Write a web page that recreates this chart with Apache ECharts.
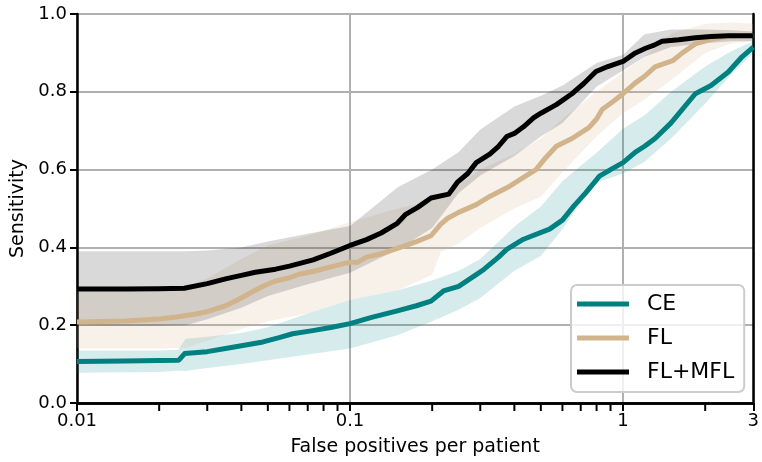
<!DOCTYPE html>
<html>
<head>
<meta charset="utf-8">
<script src="https://cdn.jsdelivr.net/npm/echarts@6/dist/echarts.min.js"></script>
<style>html,body{margin:0;padding:0;background:#fff}#c{width:762px;height:462px}</style>
</head>
<body>
<div id="c"></div>
<script>
// ---- data (false positives per patient, sensitivity) ----
const seriesNames = ['CE', 'FL', 'FL+MFL'];

const ceX = [0.01, 0.015, 0.02, 0.0236, 0.0248, 0.03, 0.035, 0.04, 0.048, 0.055, 0.0616, 0.073, 0.085, 0.1, 0.12, 0.149, 0.175, 0.198, 0.22, 0.25, 0.29, 0.31, 0.35, 0.375, 0.432, 0.538, 0.6, 0.66, 0.73, 0.82, 0.9, 1.0, 1.11, 1.2, 1.31, 1.5, 1.84, 2.1, 2.43, 2.73, 3];
const ceY = [0.107, 0.108, 0.109, 0.11, 0.127, 0.132, 0.14, 0.147, 0.157, 0.168, 0.178, 0.186, 0.194, 0.204, 0.22, 0.237, 0.25, 0.262, 0.288, 0.3, 0.33, 0.344, 0.375, 0.395, 0.421, 0.447, 0.47, 0.506, 0.54, 0.583, 0.6, 0.618, 0.645, 0.66, 0.68, 0.72, 0.795, 0.816, 0.851, 0.89, 0.915];

const flX = [0.01, 0.015, 0.02, 0.0231, 0.027, 0.03, 0.035, 0.04, 0.045, 0.048, 0.053, 0.06, 0.065, 0.075, 0.085, 0.1, 0.107, 0.115, 0.129, 0.15, 0.175, 0.198, 0.215, 0.228, 0.25, 0.29, 0.325, 0.38, 0.432, 0.48, 0.52, 0.57, 0.65, 0.75, 0.8, 0.84, 0.92, 1.0, 1.11, 1.2, 1.31, 1.52, 1.65, 1.84, 2.1, 2.43, 3];
const flY = [0.208, 0.211, 0.216, 0.221, 0.228, 0.235, 0.25, 0.27, 0.29, 0.3, 0.313, 0.322, 0.331, 0.34, 0.35, 0.362, 0.362, 0.375, 0.383, 0.398, 0.415, 0.43, 0.46, 0.475, 0.49, 0.51, 0.531, 0.555, 0.58, 0.6, 0.63, 0.66, 0.68, 0.708, 0.73, 0.755, 0.775, 0.795, 0.823, 0.84, 0.864, 0.88, 0.9, 0.923, 0.935, 0.943, 0.945];

const mflX = [0.01, 0.015, 0.02, 0.0247, 0.03, 0.035, 0.04, 0.045, 0.0534, 0.06, 0.0733, 0.085, 0.1, 0.115, 0.13, 0.149, 0.16, 0.177, 0.198, 0.23, 0.247, 0.27, 0.29, 0.325, 0.35, 0.375, 0.4, 0.432, 0.47, 0.5, 0.57, 0.65, 0.72, 0.796, 0.88, 1.0, 1.11, 1.21, 1.3, 1.39, 1.6, 1.84, 2.1, 2.43, 3];
const mflY = [0.293, 0.293, 0.294, 0.295, 0.307, 0.319, 0.328, 0.336, 0.344, 0.352, 0.368, 0.385, 0.405, 0.42, 0.437, 0.462, 0.485, 0.503, 0.527, 0.537, 0.567, 0.59, 0.618, 0.64, 0.66, 0.685, 0.693, 0.71, 0.733, 0.745, 0.767, 0.795, 0.822, 0.852, 0.865, 0.878, 0.9, 0.912, 0.92, 0.93, 0.934, 0.939, 0.942, 0.944, 0.944];

// confidence bands
const ceBandX  = [0.01, 0.02, 0.0235, 0.025, 0.03, 0.04, 0.05, 0.07, 0.1, 0.15, 0.2, 0.25, 0.3, 0.4, 0.5, 0.6, 0.7, 0.8, 1.0, 1.2, 1.5, 2.0, 2.5, 3];
const ceLow    = [0.078, 0.08, 0.083, 0.082, 0.09, 0.1, 0.11, 0.125, 0.14, 0.175, 0.21, 0.24, 0.27, 0.34, 0.378, 0.447, 0.515, 0.567, 0.59, 0.62, 0.68, 0.77, 0.846, 0.9];
const ceHigh   = [0.135, 0.135, 0.137, 0.165, 0.17, 0.18, 0.195, 0.23, 0.265, 0.29, 0.315, 0.34, 0.37, 0.454, 0.505, 0.57, 0.61, 0.643, 0.705, 0.74, 0.8, 0.865, 0.905, 0.93];

const flBandX  = [0.01, 0.02, 0.025, 0.03, 0.04, 0.05, 0.07, 0.1, 0.15, 0.2, 0.215, 0.25, 0.3, 0.4, 0.5, 0.6, 0.8, 1.0, 1.2, 1.5, 2.0, 2.5, 3];
const flLow    = [0.14, 0.14, 0.142, 0.16, 0.19, 0.21, 0.23, 0.265, 0.29, 0.33, 0.388, 0.41, 0.45, 0.5, 0.53, 0.593, 0.685, 0.745, 0.78, 0.83, 0.9, 0.925, 0.93];
const flHigh   = [0.29, 0.295, 0.3, 0.32, 0.37, 0.405, 0.43, 0.465, 0.5, 0.52, 0.53, 0.56, 0.6, 0.64, 0.68, 0.73, 0.8, 0.85, 0.89, 0.95, 0.975, 0.978, 0.975];

const mflBandX = [0.01, 0.02, 0.025, 0.03, 0.04, 0.05, 0.07, 0.1, 0.15, 0.2, 0.25, 0.3, 0.4, 0.5, 0.6, 0.8, 1.0, 1.2, 1.5, 2.0, 2.5, 3];
const mflLow   = [0.198, 0.198, 0.2, 0.215, 0.245, 0.275, 0.305, 0.335, 0.395, 0.45, 0.54, 0.585, 0.635, 0.685, 0.72, 0.813, 0.855, 0.89, 0.915, 0.925, 0.93, 0.93];
const mflHigh  = [0.39, 0.39, 0.39, 0.392, 0.4, 0.415, 0.435, 0.455, 0.555, 0.6, 0.645, 0.703, 0.762, 0.79, 0.816, 0.874, 0.895, 0.948, 0.96, 0.96, 0.958, 0.955];

// axis ticks
const xMajorTicks = [0.01, 0.1, 1, 3];
const xMinorTicks = [0.02, 0.03, 0.04, 0.05, 0.06, 0.07, 0.08, 0.09, 0.2, 0.3, 0.4, 0.5, 0.6, 0.7, 0.8, 0.9, 2];
const yTicks = [0, 0.2, 0.4, 0.6, 0.8, 1.0];

// ---- build ----
const colors = ['#008080', '#D2B48C', '#000000'];
const bandColors = ['rgba(0,128,128,0.16)', 'rgba(210,180,140,0.18)', 'rgba(0,0,0,0.15)'];
const lines = [[ceX, ceY], [flX, flY], [mflX, mflY]];
const bands = [[ceBandX, ceLow, ceHigh], [flBandX, flLow, flHigh], [mflBandX, mflLow, mflHigh]];

function bandSeries(i) {
  const [bx, lo, hi] = bands[i];
  return {
    type: 'custom', silent: true, xAxisIndex: 0, yAxisIndex: 0,
    data: bx.map((x, k) => [x, lo[k], hi[k]]),
    encode: { x: 0, y: [1, 2] },
    renderItem: function (params, api) {
      if (params.dataIndex !== 0) return null;
      const pts = [];
      for (let k = 0; k < bx.length; k++) pts.push(api.coord([bx[k], hi[k]]));
      for (let k = bx.length - 1; k >= 0; k--) pts.push(api.coord([bx[k], lo[k]]));
      return { type: 'polygon', shape: { points: pts }, style: { fill: bandColors[i], stroke: null } };
    }
  };
}

const series = [];
for (let i = 0; i < 3; i++) {
  series.push(bandSeries(i));
  const [lx, ly] = lines[i];
  series.push({
    name: seriesNames[i], type: 'line', symbol: 'none', xAxisIndex: 0, yAxisIndex: 0,
    color: colors[i],
    lineStyle: { width: 5, color: colors[i], join: 'round' },
    data: lx.map((x, k) => [x, ly[k]])
  });
}
// minor ticks on the log x axis, placed through the axis scale
series.push({
  type: 'custom', silent: true, clip: false, xAxisIndex: 0, yAxisIndex: 0, z: 5,
  data: xMinorTicks.map(v => [v, 0]),
  renderItem: function (params, api) {
    const p = api.coord([api.value(0), 0]);
    return { type: 'line', shape: { x1: p[0], y1: p[1] + 1, x2: p[0], y2: p[1] + 8 }, style: { stroke: '#000', lineWidth: 2 } };
  }
});

const font = 'DejaVu Sans';
const chart = echarts.init(document.getElementById('c'), null, { renderer: 'canvas' });
chart.setOption({
  animation: false,
  backgroundColor: '#fff',
  grid: { left: 77, right: 5, top: 14, bottom: 57.5 },
  legend: {
    data: seriesNames, orient: 'vertical', left: 571, top: 285,
    icon: 'rect', itemWidth: 52, itemHeight: 5, itemGap: 12,
    padding: [8, 10, 9, 6],
    backgroundColor: 'rgba(255,255,255,0.8)', borderColor: '#cccccc', borderWidth: 2, borderRadius: 6,
    textStyle: { fontFamily: font, fontSize: 22, color: '#000', padding: [0, 0, 0, 13], lineHeight: 22 }
  },
  xAxis: [{
    type: 'log', logBase: 10, min: 0.01, max: 3,
    name: 'False positives per patient', nameLocation: 'middle', nameGap: 35,
    nameTextStyle: { fontFamily: font, fontSize: 19, color: '#000' },
    axisLine: { show: true, lineStyle: { color: '#000', width: 2.5 } },
    axisTick: { show: true, length: 8, lineStyle: { color: '#000', width: 2 } },
    axisLabel: { fontFamily: font, fontSize: 18, color: '#000', margin: 9,
      formatter: v => String(+(+v).toPrecision(3)) },
    splitLine: { show: true, lineStyle: { color: '#b0b0b0', width: 2 } }
  }, {
    type: 'log', logBase: 10, min: 0.01, max: 3, position: 'top',
    axisLine: { show: true, lineStyle: { color: '#000', width: 2.5 } },
    axisTick: { show: false }, axisLabel: { show: false }, splitLine: { show: false }
  }],
  yAxis: [{
    type: 'value', min: 0, max: 1, interval: 0.2,
    name: 'Sensitivity', nameLocation: 'middle', nameGap: 41,
    nameTextStyle: { fontFamily: font, fontSize: 19, color: '#000' },
    axisLine: { show: true, lineStyle: { color: '#000', width: 2.5 } },
    axisTick: { show: true, length: 7, lineStyle: { color: '#000', width: 2 } },
    axisLabel: { fontFamily: font, fontSize: 18, color: '#000', margin: 10, formatter: v => v.toFixed(1) },
    splitLine: { show: true, lineStyle: { color: '#b0b0b0', width: 2 } }
  }, {
    type: 'value', min: 0, max: 1, interval: 0.2, position: 'right',
    axisLine: { show: true, lineStyle: { color: '#000', width: 2.5 } },
    axisTick: { show: false }, axisLabel: { show: false }, splitLine: { show: false }
  }],
  series: series
});
</script>
</body>
</html>
